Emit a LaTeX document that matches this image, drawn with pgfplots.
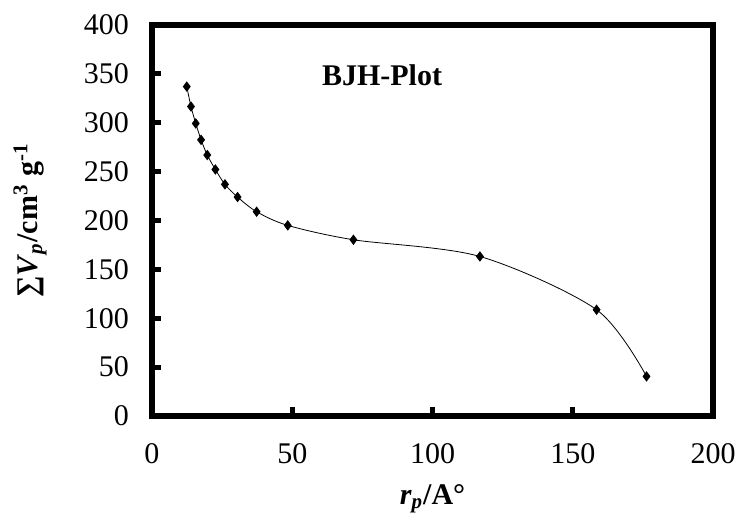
\documentclass[border=0pt]{standalone}
\usepackage{fontspec}
\setmainfont{Liberation Serif}
\usepackage{pgfplots}
\pgfplotsset{compat=1.18}

\begin{document}
\begin{tikzpicture}
\begin{axis}[
    scale only axis,
    width=280.5pt,
    height=195.5pt,
    xmin=0, xmax=200,
    ymin=0, ymax=400,
    xtick={0,50,...,200},
    ytick={0,50,...,400},
    tick pos=left,
    tick align=inside,
    major tick length=4.5pt,
    every tick/.style={black, line width=2.5pt},
    axis line style={line width=2.8pt, line cap=rect},
    /pgf/number format/assume math mode=true,
    tick label style={font=\fontsize{15}{17}\selectfont},
    xticklabel style={yshift=-10pt},
    yticklabel style={xshift=-8pt},
    xlabel={\textbf{\textit{r}\textsubscript{\textit{p}}/A°}},
    ylabel={\textbf{∑\textit{V}\textsubscript{\textit{p}}/cm\textsuperscript{3} g\textsuperscript{-1}}},
    label style={font=\fontsize{15}{17}\selectfont},
    xlabel style={at={(axis description cs:0.5,0)}, anchor=center, yshift=-41.5pt},
    ylabel style={at={(axis description cs:0,0.5)}, anchor=center, yshift=61pt},
]
\addplot[black, line width=0.4pt, smooth, tension=0.5,
    mark=diamond*, mark size=2.3pt, mark options={solid, fill=black}]
coordinates {
    (12.4, 337)
    (13.9, 316.6)
    (15.6, 299.3)
    (17.5, 282.5)
    (19.7, 267)
    (22.6, 252.2)
    (26.0, 237)
    (30.5, 224)
    (37.3, 209)
    (48.4, 195)
    (71.8, 180.3)
    (116.9, 163.2)
    (158.5, 108.7)
    (176.3, 40.5)
};
\node[font=\fontsize{15}{17}\selectfont\bfseries] at (axis cs:82,349) {BJH-Plot};
\end{axis}
\useasboundingbox (-76pt,-56.5pt) rectangle (295.5pt,208pt);
\end{tikzpicture}
\end{document}
